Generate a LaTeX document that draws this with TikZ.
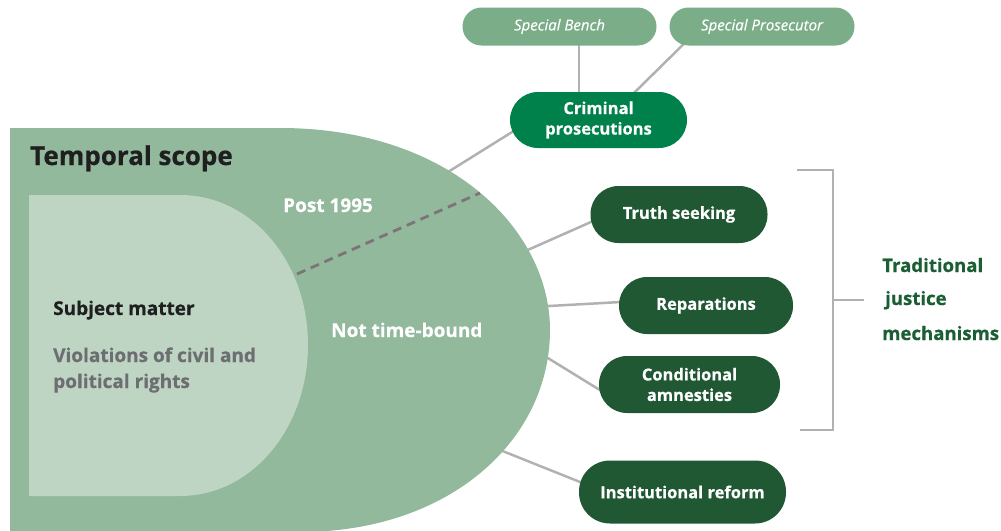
\documentclass[tikz,border=0pt]{standalone}
\usepackage{fontspec}
\setmainfont{Open Sans}[BoldFeatures={FakeBold=0.6},ItalicFeatures={FakeBold=0.3}]
\usetikzlibrary{backgrounds,calc}
\definecolor{outerg}{RGB}{146,185,155}
\definecolor{innerg}{RGB}{190,213,195}
\definecolor{lightpill}{RGB}{122,173,136}
\definecolor{crimg}{RGB}{0,128,74}
\definecolor{darkg}{RGB}{33,88,52}
\definecolor{labelg}{RGB}{27,94,52}
\definecolor{linegrey}{RGB}{177,177,179}
\definecolor{dashgrey}{RGB}{125,116,121}
\definecolor{subgrey}{RGB}{109,110,113}
\tikzset{
  pillbase/.style={inner sep=0pt, align=center, text=white, font=\bfseries\fontsize{16.5}{20.5}\selectfont},
  darkpill/.style={pillbase, fill=darkg, minimum height=57pt, rounded corners=28pt},
  lightp/.style={inner sep=0pt, align=center, text=white, fill=lightpill, minimum height=38pt, rounded corners=19pt, font=\itshape\fontsize{15}{17}\selectfont},
  conn/.style={draw=linegrey, line width=2.5pt},
  bigtxt/.style={inner sep=0pt, anchor=base west, font=\bfseries\fontsize{19}{21}\selectfont},
}
\begin{document}
\begin{tikzpicture}[x=1pt,y=-1pt]
\useasboundingbox (0,0) rectangle (1001,530);
% shapes
\fill[outerg] (10,128) -- (280,128) .. controls (450,128) and (550,230) .. (550,330) .. controls (550,440) and (450,532) .. (300,532) -- (10,532) -- cycle;
\fill[innerg] (29,195) -- (180,195) .. controls (252,195) and (308,262) .. (308,345) .. controls (308,428) and (252,496) .. (180,496) -- (29,496) -- cycle;
\coordinate (dA) at (297,274);
\coordinate (dB) at (480,193);
\draw[dashgrey, line width=2.8pt, dash pattern=on 9pt off 6pt] (dA) -- (dB);

% texts in shapes
\node[inner sep=0pt, anchor=base west, font=\bfseries\fontsize{26}{28}\selectfont, text=black!88] (temporal) at (30,165) {Temporal scope};
\node[bigtxt, text=white] (post) at (283,212) {Post 1995};
\node[bigtxt, text=white] (notime) at (331,337) {Not time-bound};
\node[bigtxt, text=black!88] (subject) at (53,315) {Subject matter};
\node[bigtxt, text=subgrey] (viol1) at (53,362) {Violations of civil and};
\node[bigtxt, text=subgrey] (viol2) at (53,388) {political rights};

% pills
\node[lightp, minimum width=194pt] (bench) at (559.5,26.5) {Special Bench};
\node[lightp, minimum width=185pt] (prosec) at (762,26.5) {Special Prosecutor};
\node[pillbase, fill=crimg, minimum width=177pt, minimum height=56pt, rounded corners=28pt] (crim) at (598.5,120) {\raisebox{-2pt}{\parbox{170pt}{\centering Criminal\\prosecutions}}};
\node[darkpill, minimum width=177pt] (truth) at (679,214.5) {Truth seeking};
\node[darkpill, minimum width=174pt] (repar) at (706,305.5) {Reparations};
\node[darkpill, minimum width=181pt] (cond) at (689.5,384.5) {Conditional\\amnesties};
\node[darkpill, minimum width=207pt, minimum height=63pt, rounded corners=31pt] (inst) at (682.5,492) {Institutional reform};

% edge coordinates on the big shape
\coordinate (eCrim) at (440,177);
\coordinate (eTruth) at (520,253.4);
\coordinate (eRepar) at (540,306.5);
\coordinate (eCond) at (540,353.2);
\coordinate (eInst) at (492,446.8);

\begin{scope}[on background layer]
\draw[conn] ([xshift=19.5pt]bench.center) -- ([xshift=19.5pt]bench.center |- crim.center);
\draw[conn] ([xshift=-60.5pt]prosec.center) -- ([xshift=8pt]crim.center);
\draw[conn] ([xshift=-80pt,yshift=-8pt]crim.center) -- (eCrim);
\draw[conn] ([xshift=-79pt,yshift=-3.5pt]truth.center) -- (eTruth);
\draw[conn] ([xshift=-76pt,yshift=4pt]repar.center) -- (eRepar);
\draw[conn] ([xshift=-77.5pt,yshift=-13pt]cond.center) -- (eCond);
\draw[conn] ([xshift=-90.5pt,yshift=5.2pt]inst.center) -- (eInst);
\end{scope}

% bracket
\coordinate (bTop) at (797,170);
\coordinate (bBot) at (800,430);
\coordinate (bMid) at (833,300);
\coordinate (bTip) at (864,300);
\draw[linegrey, line width=2.2pt] (bTop) -- (833,170) -- (833,430) -- (bBot);
\draw[linegrey, line width=2.2pt] (bMid) -- (bTip);

\node[bigtxt, text=labelg, font=\bfseries\fontsize{18.6}{21}\selectfont] (trad1) at (882,272) {Traditional};
\node[bigtxt, text=labelg, font=\bfseries\fontsize{18.6}{21}\selectfont] (trad2) at (885,305) {justice};
\node[bigtxt, text=labelg, font=\bfseries\fontsize{18.6}{21}\selectfont] (trad3) at (882,340) {mechanisms};
\end{tikzpicture}
\end{document}
